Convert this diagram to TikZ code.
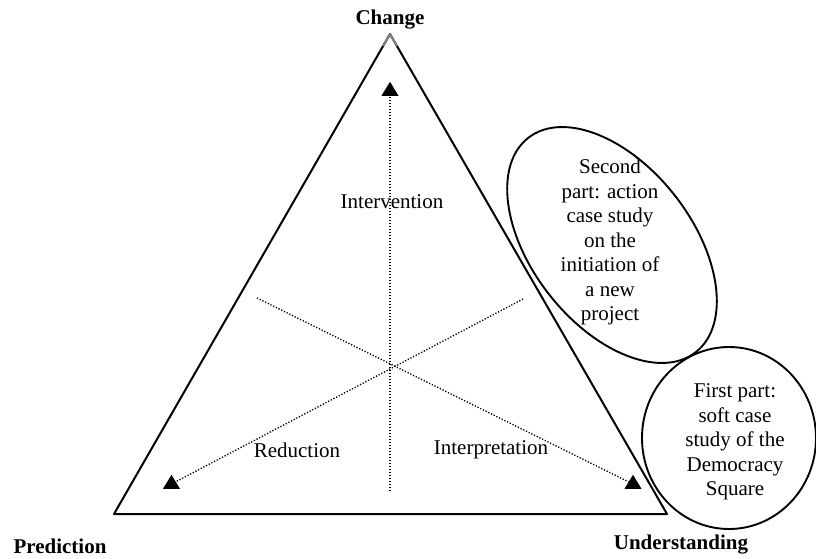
\documentclass[tikz,border=0pt]{standalone}
\usepackage{fontspec}
\setmainfont{Liberation Serif}
\usetikzlibrary{shapes.geometric, calc, positioning}

\begin{document}
\begin{tikzpicture}[x=1pt, y=1pt, line join=round,
    every node/.style={font=\fontsize{21}{24.5}\selectfont},
    corner/.style={font=\fontsize{21}{24.5}\selectfont\bfseries},
    head/.style={isosceles triangle, isosceles triangle stretches, shape border rotate=90,
                 fill=black, inner sep=0pt, minimum height=14pt, minimum width=17pt},
    axis/.style={line width=1.4pt, dash pattern=on 1.2pt off 1.8pt},
    part/.style={line width=1.9pt}]

    \useasboundingbox (0,0) rectangle (816,558);

    % the triangle
    \coordinate (top) at (390,524);
    \coordinate (left) at (114,44);
    \coordinate (right) at (667,44);
    \draw[line width=2pt] (left) -- (top) -- (right) -- cycle;
    \draw[gray, line width=2pt] ($(top)!0.025!(left)$) -- (top) -- ($(top)!0.025!(right)$);

    % the three axes
    \node[head] (hc) at (390,467) {};
    \node[head] (hp) at (171.5,74) {};
    \node[head] (hu) at (633,74) {};
    \coordinate (base) at (390,67);
    \coordinate (ul) at (257,260);
    \coordinate (ur) at (523,259);
    \draw[axis] (base) -- (hc.south);
    \draw[axis] (ul) -- (hu);
    \draw[axis] (ur) -- (hp);

    % labels
    \node[corner] (change) at (390,538) {Change};
    \node[corner] (prediction) at (60,12) {Prediction};
    \node[corner] (understanding) at (681,13) {Understanding};
    \node (intervention) at (392,356) {Intervention};
    \node (reduction) at (297,108) {Reduction};
    \node (interpretation) at (491,108) {Interpretation};

    % the two parts
    \draw[part, rotate around={-52:(612,313)}] (612,313) ellipse [x radius=136pt, y radius=80pt];
    \node[align=center] (second) at (610,316) {Second\\part: action\\case study\\on the\\initiation of\\a new\\project};
    \draw[part] (729,120) ellipse [x radius=87pt, y radius=91pt];
    \node[align=center] (first) at (735,116) {First part:\\soft case\\study of the\\Democracy\\Square};

\end{tikzpicture}
\end{document}
